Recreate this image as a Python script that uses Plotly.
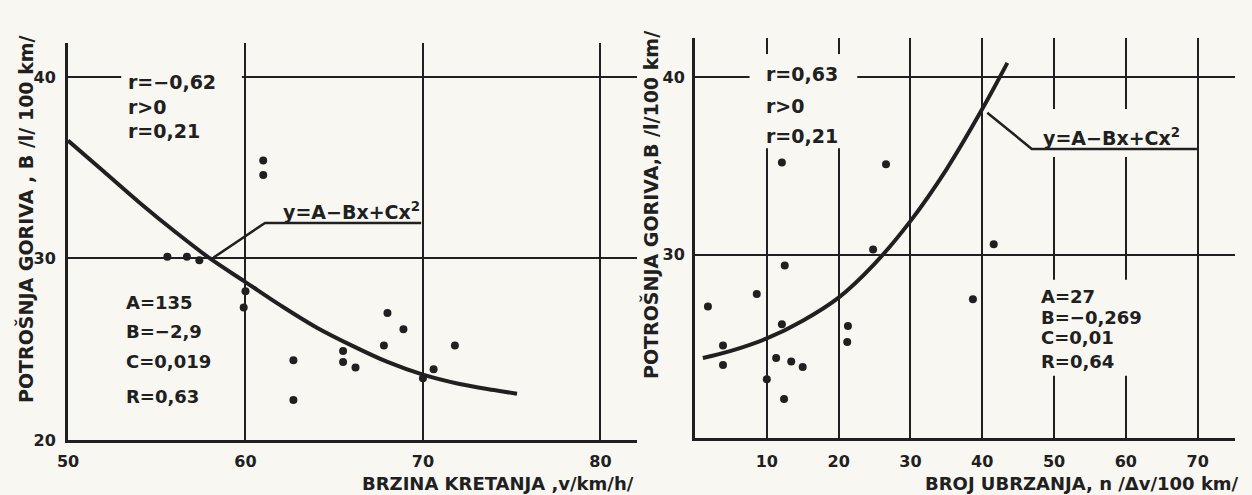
import plotly.graph_objects as go

# ---------------- data ----------------
# Left panel: fuel consumption vs. speed
speed_pts_x = [55.6, 56.7, 57.4, 61.0, 61.0, 60.0, 59.9, 62.7, 62.7, 68.0, 68.9, 67.8,
               65.5, 65.5, 66.2, 70.6, 70.0, 71.8]
speed_pts_y = [30.1, 30.1, 29.9, 35.4, 34.6, 28.2, 27.3, 24.4, 22.2, 27.0, 26.1, 25.2,
               24.9, 24.3, 24.0, 23.9, 23.4, 25.2]
speed_fit_x = [50, 52, 54, 56, 58, 60, 62, 64, 66, 68, 70, 72, 74, 75.3]
speed_fit_y = [36.5, 34.8, 33.1, 31.5, 30.0, 28.7, 27.4, 26.2, 25.2, 24.3, 23.6, 23.1, 22.75, 22.55]

# Right panel: fuel consumption vs. number of accelerations
acc_pts_x = [1.8, 8.6, 12.5, 3.9, 3.9, 12.1, 11.3, 13.4, 15.0, 10.0, 12.4, 21.3, 21.2,
             24.8, 12.1, 26.6, 41.6, 38.7]
acc_pts_y = [27.1, 27.8, 29.4, 24.9, 23.8, 26.1, 24.2, 24.0, 23.7, 23.0, 21.9, 26.0, 25.1,
             30.3, 35.2, 35.1, 30.6, 27.5]
acc_fit_x = [1.1, 5, 10, 15, 20, 25, 30, 35, 40, 43.5]
acc_fit_y = [24.2, 24.6, 25.3, 26.3, 27.6, 29.5, 31.9, 34.8, 38.2, 40.8]

left_xticks = [50, 60, 70, 80]
left_yticks = [20, 30, 40]
right_xticks = [10, 20, 30, 40, 50, 60, 70]
right_yticks = [30, 40]

left_r = ["r=−0,62", "r>0", "r=0,21"]
left_coef = ["A=135", "B=−2,9", "C=0,019", "R=0,63"]
right_r = ["r=0,63", "r>0", "r=0,21"]
right_coef = ["A=27", "B=−0,269", "C=0,01", "R=0,64"]
equation = "y=A−Bx+Cx<sup>2</sup>"

left_xtitle = "BRZINA KRETANJA ,v/km/h/"
left_ytitle = "POTROŠNJA GORIVA , B /l/ 100 km/"
right_xtitle = "BROJ UBRZANJA, n /Δv/100 km/"
right_ytitle = "POTROŠNJA GORIVA,B /l/100 km/"

# ---------------- style ----------------
BG = "#f8f7f2"
INK = "#202020"
FONT = "DejaVu Sans"
W, H = 1252, 495


def fnt(size):
    return dict(family=FONT, size=size, color=INK, weight="bold")


fig = go.Figure()

fig.add_trace(go.Scatter(x=speed_fit_x, y=speed_fit_y, mode="lines",
                         line=dict(color=INK, width=4, shape="spline"),
                         xaxis="x", yaxis="y", hoverinfo="skip"))
fig.add_trace(go.Scatter(x=speed_pts_x, y=speed_pts_y, mode="markers",
                         marker=dict(color=INK, size=8),
                         xaxis="x", yaxis="y"))
fig.add_trace(go.Scatter(x=acc_fit_x, y=acc_fit_y, mode="lines",
                         line=dict(color=INK, width=4, shape="spline"),
                         xaxis="x2", yaxis="y2", hoverinfo="skip"))
fig.add_trace(go.Scatter(x=acc_pts_x, y=acc_pts_y, mode="markers",
                         marker=dict(color=INK, size=8),
                         xaxis="x2", yaxis="y2"))

axis_common = dict(showgrid=True, gridcolor=INK, gridwidth=2, showline=True,
                   linecolor=INK, linewidth=3, zeroline=False, ticks="",
                   tickfont=fnt(16), fixedrange=True, automargin=False)

fig.update_layout(
    width=W, height=H, margin=dict(l=0, r=0, t=0, b=0, autoexpand=False),
    paper_bgcolor=BG, plot_bgcolor=BG, showlegend=False,
    xaxis=dict(axis_common, domain=[68 / W, 637 / W], range=[50, 82.06],
               tickvals=left_xticks, anchor="y", ticklabelstandoff=5),
    yaxis=dict(axis_common, domain=[1 - 440 / H, 1 - 43 / H], range=[20, 41.87],
               tickvals=left_yticks, anchor="x", ticklabelstandoff=6),
    xaxis2=dict(axis_common, domain=[695 / W, 1235 / W], range=[0, 75.2],
                tickvals=right_xticks, anchor="y2", ticklabelstandoff=7),
    yaxis2=dict(axis_common, domain=[1 - 438 / H, 1 - 38 / H], range=[19.7, 42.2],
                tickvals=right_yticks, anchor="x2", ticklabelstandoff=4),
)

# paper-coloured masks that break the grid lines around the texts
masks = [
    ("x", "y", 53.0, 59.8, 39.4, 40.6),
    ("x2", "y2", 7.6, 22.6, 36.0, 41.3),
    ("x2", "y2", 48.0, 61.0, 35.5, 38.2),
    ("x2", "y2", 48.0, 61.0, 23.2, 28.6),
]
for xr, yr, x0, x1, y0, y1 in masks:
    fig.add_shape(type="rect", xref=xr, yref=yr, x0=x0, x1=x1, y0=y0, y1=y1,
                  fillcolor=BG, line=dict(width=0), layer="between")

# leader lines of the equation labels
fig.add_shape(type="path", xref="x", yref="y",
              path="M 58.2,30.05 L 61.1,31.96 L 69.9,31.96",
              line=dict(color=INK, width=2.5), layer="above")
fig.add_shape(type="path", xref="x2", yref="y2",
              path="M 40.7,38.0 L 46.9,35.96 L 69.9,35.96",
              line=dict(color=INK, width=2.5), layer="above")


def txt(s, xr, yr, x, y, size=18, xanchor="left", yanchor="middle", angle=0):
    fig.add_annotation(text=s, xref=xr, yref=yr, x=x, y=y, showarrow=False,
                       xanchor=xanchor, yanchor=yanchor, font=fnt(size),
                       textangle=angle, borderpad=0)


for s, y in zip(left_r, [39.7, 38.35, 37.0]):
    txt(s, "x", "y", 53.3, y, size=19)
for s, y in zip(left_coef, [27.6, 26.0, 24.3, 22.4]):
    txt(s, "x", "y", 53.2, y)
txt(equation, "x", "y", 69.9, 32.6, size=19, xanchor="right")

for s, y in zip(right_r, [40.2, 38.4, 36.7]):
    txt(s, "x2", "y2", 9.8, y, size=19)
for s, y in zip(right_coef, [27.64, 26.5, 25.34, 24.0]):
    txt(s, "x2", "y2", 48.0, y, size=18)
txt(equation, "x2", "y2", 48.3, 36.65, size=19)

# axis titles
txt(left_xtitle, "paper", "paper", 635 / W, 1 - 483 / H, size=18, xanchor="right")
txt(right_xtitle, "paper", "paper", 1240 / W, 1 - 483 / H, size=18, xanchor="right")
txt(left_ytitle, "paper", "paper", 26 / W, 1 - 219 / H, size=19, xanchor="center", angle=-90)
txt(right_ytitle, "paper", "paper", 650 / W, 1 - 205 / H, size=19, xanchor="center", angle=-90)

fig.write_html("out.html")
